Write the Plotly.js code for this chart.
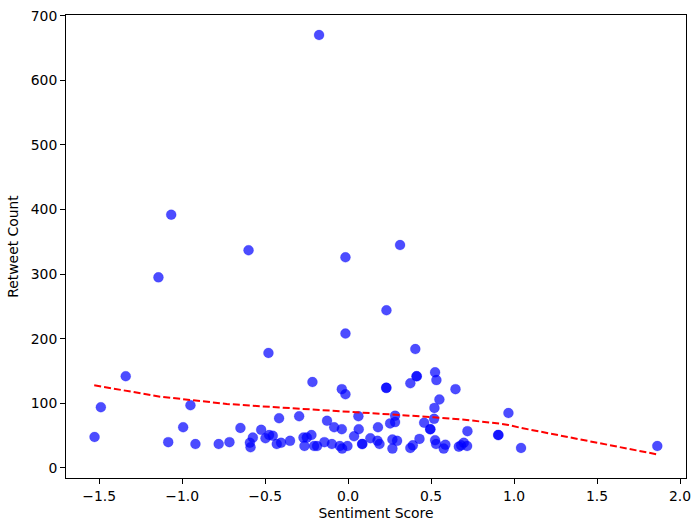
<!DOCTYPE html>
<html>
<head>
<meta charset="utf-8">
<script src="https://cdn.plot.ly/plotly-3.0.1.min.js"></script>
<style>body{margin:0;} #chart{width:698px;height:529px;}</style>
</head>
<body>
<div id="chart"></div>
<script>
const sentiment = [-0.175,-1.066,-1.143,-0.60,-0.016,0.313,0.231,-0.016,0.405,0.524,
  -1.528,-1.49,-1.34,-0.48,-0.215,-0.038,-0.016,-0.95,-0.994,-1.084,
  -0.92,-0.78,-0.715,-0.649,-0.592,-0.588,-0.574,-0.524,-0.498,-0.476,
  -0.454,-0.416,-0.43,-0.404,-0.35,-0.295,-0.269,-0.249,-0.221,-0.263,
  -0.205,-0.187,-0.143,-0.127,-0.084,-0.098,-0.038,-0.05,-0.036,-0.004,
  0.062,0.064,0.036,0.084,0.086,0.134,0.18,0.177,0.189,0.229,
  0.231,0.375,0.412,0.414,0.532,0.647,0.55,0.52,0.518,0.458,
  0.494,0.496,0.719,0.966,0.904,0.906,1.042,1.863,0.283,0.253,
  0.283,0.267,0.295,0.267,0.375,0.39,0.43,0.524,0.53,0.576,
  0.586,0.667,0.681,0.697,0.717];
const retweets = [670,392,295,337,326,345,244,208,184,148,
  48,94,142,178,133,122,114,97,63,40,
  37,37,40,62,39,32,47,59,46,51,
  50,77,37,39,42,80,47,47,51,34,
  34,34,40,73,63,37,60,34,30,34,
  80,60,49,37,37,46,63,42,37,124,
  124,131,142,142,136,122,106,93,76,70,
  60,60,57,85,51,51,31,34,81,69,
  71,44,42,30,31,35,45,43,37,30,
  36,33,35,39,34];

const trendX = [-1.53,-1.333,-1.133,-0.932,-0.731,-0.53,-0.329,-0.128,0.072,0.313,0.514,0.715,0.916,0.966,1.042,1.863];
const trendY = [128,119.7,110.4,104.8,99.1,95.5,92.4,89.8,86.7,82,78.5,74.3,68.5,66.5,62,21];

const axisFont = {family: 'DejaVu Sans', size: 13.9, color: '#000'};

const data = [
  {
    x: sentiment,
    y: retweets,
    type: 'scatter',
    mode: 'markers',
    marker: {size: 10, color: 'rgba(0,0,255,0.7)', line: {width: 0.6, color: 'rgba(0,0,255,0.3)'}},
    showlegend: false
  },
  {
    x: trendX,
    y: trendY,
    type: 'scatter',
    mode: 'lines',
    line: {color: 'red', width: 2, dash: '7px,3px'},
    showlegend: false
  }
];

const layout = {
  width: 698,
  height: 529,
  margin: {l: 66, r: 12, t: 15, b: 51},
  paper_bgcolor: 'white',
  plot_bgcolor: 'white',
  font: axisFont,
  xaxis: {
    range: [-1.70, 2.036],
    tickvals: [-1.5,-1,-0.5,0,0.5,1,1.5,2],
    tickformat: '.1f',
    showgrid: false, zeroline: false,
    showline: true, mirror: true, linecolor: '#000', linewidth: 1,
    ticks: 'outside', ticklen: 5, tickcolor: '#000',
    tickfont: axisFont,
    title: {text: 'Sentiment Score', font: axisFont, standoff: 5}
  },
  yaxis: {
    range: [-15.5, 701],
    tickvals: [0,100,200,300,400,500,600,700],
    showgrid: false, zeroline: false,
    showline: true, mirror: true, linecolor: '#000', linewidth: 1,
    ticks: 'outside', ticklen: 5, tickcolor: '#000',
    tickfont: axisFont,
    title: {text: 'Retweet Count', font: axisFont, standoff: 8}
  }
};

Plotly.newPlot('chart', data, layout, {displayModeBar: false});
</script>
</body>
</html>
